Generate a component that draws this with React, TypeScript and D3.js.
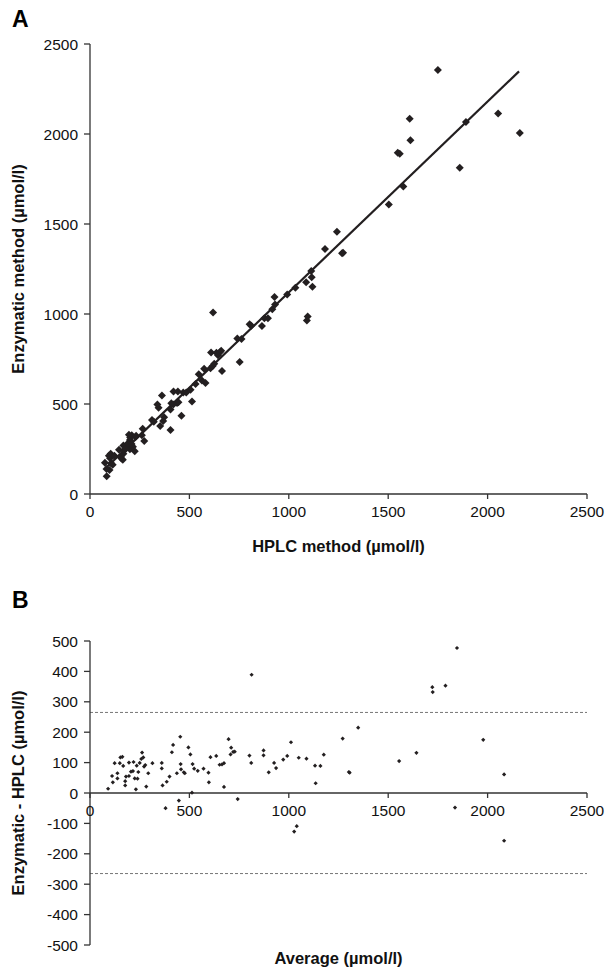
import React from "react";
import * as d3 from "d3";

// ---------- Panel A data (HPLC vs Enzymatic, µmol/l) ----------
const hplcA = [84, 98, 83, 75, 106, 114, 101, 95, 104, 123, 158, 165, 154, 168, 146, 171, 168, 201, 180, 225,
  190, 216, 209, 201, 202, 196, 210, 229, 232, 273, 261, 265, 312, 321, 353, 405, 368, 373, 345, 339,
  405, 460, 362, 409, 419, 438, 445, 420, 442, 513, 469, 484, 506, 531, 563, 581, 547, 574, 606, 617,
  625, 664, 609, 636, 644, 653, 660, 753, 741, 619, 762, 803, 811, 865, 877, 895, 917, 931, 928, 1091,
  1095, 992, 1033, 1087, 1119, 1115, 1113, 1182, 1268, 1273, 1242, 1503, 1576, 1548, 1558, 1612, 1860, 1608, 1891, 2053,
  2162, 1750];
const enzA = [98, 133, 139, 173, 171, 162, 199, 212, 223, 212, 197, 190, 208, 224, 246, 241, 270, 249, 252, 237,
  280, 263, 278, 300, 314, 329, 327, 316, 324, 294, 326, 363, 411, 402, 378, 355, 405, 427, 479, 497,
  470, 435, 547, 504, 497, 506, 510, 570, 569, 514, 564, 564, 579, 611, 630, 616, 665, 696, 699, 711,
  723, 684, 786, 785, 771, 788, 796, 733, 864, 1008, 861, 943, 935, 933, 976, 977, 1027, 1053, 1095, 964,
  986, 1108, 1146, 1177, 1151, 1204, 1239, 1361, 1337, 1340, 1457, 1608, 1708, 1896, 1890, 1965, 1812, 2085, 2066, 2114,
  2005, 2355];
// regression line end points
const regX = [80, 2158];
const regY = [145, 2348];

// ---------- Panel B data (Bland-Altman) ----------
const avgB = [91, 115, 111, 124, 138, 138, 150, 153, 163, 167, 177, 177, 181, 196, 196, 206, 219, 225, 216, 231,
  235, 239, 243, 250, 258, 262, 268, 272, 278, 283, 293, 314, 361, 361, 365, 380, 386, 400, 412, 418,
  437, 447, 454, 456, 458, 472, 477, 495, 505, 513, 516, 524, 542, 571, 596, 598, 606, 635, 652, 664,
  674, 674, 697, 710, 707, 720, 728, 743, 802, 813, 811, 873, 873, 899, 926, 936, 972, 992, 1011, 1027,
  1040, 1050, 1089, 1132, 1135, 1159, 1176, 1271, 1302, 1306, 1349, 1555, 1642, 1722, 1724, 1788, 1836, 1846, 1978, 2083,
  2083];
const diffB = [14, 35, 56, 98, 65, 48, 98, 117, 119, 89, 39, 25, 54, 56, 100, 70, 102, 48, 72, 12,
  90, 47, 69, 99, 112, 133, 117, 87, 92, 21, 65, 98, 99, 81, 25, -50, 37, 54, 134, 158,
  65, -25, 185, 95, 78, 68, 65, 150, 127, 1, 95, 80, 73, 80, 67, 35, 118, 122, 93, 94,
  98, 20, 177, 149, 127, 135, 136, -20, 123, 389, 99, 140, 124, 68, 99, 82, 110, 122, 167, -127,
  -109, 116, 113, 90, 32, 89, 126, 179, 69, 67, 215, 105, 132, 348, 332, 353, -48, 477, 175, 61,
  -157];
const limitsB = [265, -265];

const ticksA = [0, 500, 1000, 1500, 2000, 2500];
const ticksBx = [0, 500, 1000, 1500, 2000, 2500];
const ticksBy = [500, 400, 300, 200, 100, 0, -100, -200, -300, -400, -500];

const FONT = "'Liberation Sans', Arial, Helvetica, sans-serif";
const INK = "#231f20";
const AXIS = "#333";

const diamond = (r: number) => `M0,${-r}L${r},0L0,${r}L${-r},0Z`;

export default function App() {
  // Panel A scales
  const xA = d3.scaleLinear().domain([0, 2500]).range([90, 587]);
  const yA = d3.scaleLinear().domain([0, 2500]).range([494, 44]);
  // Panel B scales
  const xB = d3.scaleLinear().domain([0, 2500]).range([90, 587]);
  const yB = d3.scaleLinear().domain([-500, 500]).range([945, 641]);

  const line = d3.line<number>().x((_, i) => xA(regX[i])).y((_, i) => yA(regY[i]));

  const tickFs = 15.5;

  return (
    <svg width={605} height={971} style={{ position: "absolute", left: 0, top: 0 }} fontFamily={FONT}>
      <rect width={605} height={971} fill="#fff" />
      {/* ---------------- Panel A ---------------- */}
      <text x={12} y={27} fontSize={23} fontWeight="bold" fill="#000">A</text>
      {/* axes */}
      <line x1={xA(0)} x2={xA(0)} y1={yA(0)} y2={yA(2500)} stroke={AXIS} strokeWidth={1.3} />
      <line x1={xA(0)} x2={xA(2500)} y1={yA(0)} y2={yA(0)} stroke={AXIS} strokeWidth={1.3} />
      {ticksA.map((t) => (
        <g key={"ay" + t}>
          <line x1={xA(0) - 6} x2={xA(0)} y1={yA(t)} y2={yA(t)} stroke={AXIS} strokeWidth={1.3} />
          <text x={78} y={yA(t)} dy="0.36em" textAnchor="end" fontSize={tickFs} fill="#111">{t}</text>
        </g>
      ))}
      {ticksA.map((t) => (
        <g key={"ax" + t}>
          <line x1={xA(t)} x2={xA(t)} y1={yA(0)} y2={yA(0) + 5} stroke={AXIS} strokeWidth={1.3} />
          <text x={xA(t)} y={yA(0) + 23} textAnchor="middle" fontSize={tickFs} fill="#111">{t}</text>
        </g>
      ))}
      <text x={(xA(0) + xA(2500)) / 2} y={552} textAnchor="middle" fontSize={16.5} fontWeight="bold" fill="#111">
        HPLC method (µmol/l)
      </text>
      <text transform={`translate(24,${(yA(0) + yA(2500)) / 2}) rotate(-90)`} textAnchor="middle" fontSize={16.5} fontWeight="bold" fill="#111">
        Enzymatic method (µmol/l)
      </text>
      {/* regression line */}
      <path d={line(regX) || ""} fill="none" stroke={INK} strokeWidth={2.2} />
      {/* points */}
      {hplcA.map((h, i) => (
        <path key={"pa" + i} d={diamond(4)} transform={`translate(${xA(h)},${yA(enzA[i])})`} fill={INK} />
      ))}

      {/* ---------------- Panel B ---------------- */}
      <text x={12} y={608} fontSize={23} fontWeight="bold" fill="#000">B</text>
      {limitsB.map((l) => (
        <line key={"lim" + l} x1={xB(0)} x2={xB(2500)} y1={yB(l)} y2={yB(l)} stroke="#666" strokeWidth={0.9} strokeDasharray="3,2" />
      ))}
      <line x1={xB(0)} x2={xB(0)} y1={yB(-500)} y2={yB(500)} stroke={AXIS} strokeWidth={1.3} />
      <line x1={xB(0)} x2={xB(2500)} y1={yB(0)} y2={yB(0)} stroke={AXIS} strokeWidth={1.3} />
      {ticksBy.map((t) => (
        <g key={"by" + t}>
          <line x1={xB(0) - 6} x2={xB(0)} y1={yB(t)} y2={yB(t)} stroke={AXIS} strokeWidth={1.3} />
          <text x={78} y={yB(t)} dy="0.36em" textAnchor="end" fontSize={tickFs} fill="#111">{t}</text>
        </g>
      ))}
      {ticksBx.map((t) => (
        <g key={"bx" + t}>
          <line x1={xB(t)} x2={xB(t)} y1={yB(0)} y2={yB(0) + 5} stroke={AXIS} strokeWidth={1.3} />
          <text x={xB(t)} y={yB(0) + 23} textAnchor="middle" fontSize={tickFs} fill="#111">{t}</text>
        </g>
      ))}
      <text x={(xB(0) + xB(2500)) / 2} y={964} textAnchor="middle" fontSize={16.5} fontWeight="bold" fill="#111">
        Average (µmol/l)
      </text>
      <text transform={`translate(24,${(yB(-500) + yB(500)) / 2}) rotate(-90)`} textAnchor="middle" fontSize={16.5} fontWeight="bold" fill="#111">
        Enzymatic - HPLC (µmol/l)
      </text>
      {avgB.map((a, i) => (
        <path key={"pb" + i} d={diamond(2.1)} transform={`translate(${xB(a)},${yB(diffB[i])})`} fill={INK} />
      ))}
    </svg>
  );
}
